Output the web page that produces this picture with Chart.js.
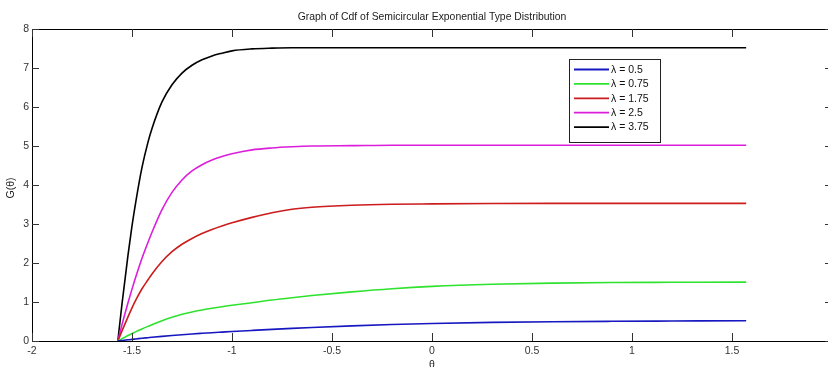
<!DOCTYPE html>
<html>
<head>
<meta charset="utf-8">
<script src="https://cdn.jsdelivr.net/npm/chart.js@4"></script>
<style>
  html, body { margin: 0; padding: 0; background: #fff; overflow: hidden; }
  canvas { display: block; }
</style>
</head>
<body>
<canvas id="cdfChart" width="840" height="367"></canvas>
<script>
const theta = [-1.5708, -1.55, -1.52, -1.50, -1.48, -1.45, -1.42, -1.40, -1.35, -1.30,
               -1.25, -1.20, -1.15, -1.10, -1.05, -1.00, -0.90, -0.80, -0.70, -0.60,
               -0.40, -0.20, 0, 0.30, 0.60, 0.90, 1.20, 1.5708];

const lambdaLabels = ['\u03bb = 0.5', '\u03bb = 0.75', '\u03bb = 1.75', '\u03bb = 2.5', '\u03bb = 3.75'];

const g050 = [0, 0.012, 0.03, 0.042, 0.053, 0.07, 0.085, 0.095, 0.118, 0.14,
              0.16, 0.18, 0.197, 0.213, 0.228, 0.243, 0.271, 0.298, 0.323, 0.346,
              0.388, 0.422, 0.45, 0.478, 0.495, 0.505, 0.512, 0.52];
const g075 = [0, 0.06, 0.14, 0.19, 0.24, 0.31, 0.375, 0.418, 0.52, 0.61,
              0.685, 0.745, 0.795, 0.84, 0.88, 0.915, 0.98, 1.05, 1.11, 1.165,
              1.26, 1.34, 1.40, 1.455, 1.485, 1.50, 1.505, 1.51];
const g175 = [0, 0.26, 0.62, 0.85, 1.06, 1.34, 1.57, 1.72, 2.04, 2.29,
              2.48, 2.63, 2.755, 2.86, 2.95, 3.03, 3.17, 3.29, 3.38, 3.43,
              3.48, 3.505, 3.515, 3.525, 3.53, 3.53, 3.53, 3.53];
const g250 = [0, 0.42, 0.98, 1.33, 1.66, 2.12, 2.53, 2.79, 3.37, 3.81,
              4.13, 4.36, 4.52, 4.64, 4.73, 4.80, 4.90, 4.95, 4.98, 5.00,
              5.01, 5.02, 5.02, 5.02, 5.02, 5.02, 5.02, 5.02];
const g375 = [0, 0.95, 2.20, 2.95, 3.60, 4.45, 5.10, 5.45, 6.13, 6.57,
              6.87, 7.07, 7.21, 7.31, 7.38, 7.44, 7.49, 7.51, 7.52, 7.52,
              7.52, 7.52, 7.52, 7.52, 7.52, 7.52, 7.52, 7.52];

const xTickValues = [-2, -1.5, -1, -0.5, 0, 0.5, 1, 1.5, 2];
const yTickValues = [0, 1, 2, 3, 4, 5, 6, 7, 8];

const FONT = '"Liberation Sans", Arial, sans-serif';

function points(ys) {
    return theta.map((t, i) => ({ x: t, y: ys[i] }));
}

function line(label, ys, color) {
    return {
        label: label,
        data: points(ys),
        borderColor: color,
        backgroundColor: color,
        borderWidth: 1.6,
        pointRadius: 0,
        cubicInterpolationMode: 'monotone',
        fill: false
    };
}

// MATLAB-like frame, inward ticks, title, axis labels and legend box
const matlabFrame = {
    id: 'matlabFrame',
    afterDraw(chart) {
        const { ctx, chartArea: a, scales: { x, y } } = chart;
        ctx.save();

        ctx.strokeStyle = '#000';
        ctx.lineWidth = 1;
        ctx.strokeRect(a.left + 0.5, a.top + 0.5, a.right - a.left, a.bottom - a.top);

        ctx.strokeStyle = '#333';
        ctx.beginPath();
        xTickValues.forEach(v => {
            const px = Math.round(x.getPixelForValue(v)) + 0.5;
            ctx.moveTo(px, a.bottom); ctx.lineTo(px, a.bottom - 8);
            ctx.moveTo(px, a.top); ctx.lineTo(px, a.top + 8);
        });
        yTickValues.forEach(v => {
            const py = Math.round(y.getPixelForValue(v)) + 0.5;
            ctx.moveTo(a.left, py); ctx.lineTo(a.left + 7, py);
            ctx.moveTo(a.right, py); ctx.lineTo(a.right - 7, py);
        });
        ctx.stroke();

        // title
        ctx.fillStyle = '#222';
        ctx.font = '10.4px ' + FONT;
        ctx.textAlign = 'center';
        ctx.textBaseline = 'alphabetic';
        ctx.fillText('Graph of Cdf of Semicircular Exponential Type Distribution', (a.left + a.right) / 2, 20);

        // axis titles
        ctx.font = '10.5px ' + FONT;
        ctx.fillText('\u03b8', x.getPixelForValue(0), 368);
        ctx.save();
        ctx.translate(14, (a.top + a.bottom) / 2 + 3);
        ctx.rotate(-Math.PI / 2);
        ctx.fillText('G(\u03b8)', 0, 0);
        ctx.restore();

        // legend
        const lx = 569, ly = 59, lw = 91, lh = 83;
        ctx.fillStyle = '#fff';
        ctx.fillRect(lx, ly, lw, lh);
        ctx.strokeStyle = '#222';
        ctx.strokeRect(lx + 0.5, ly + 0.5, lw, lh);
        ctx.font = '10.5px ' + FONT;
        ctx.textAlign = 'left';
        ctx.textBaseline = 'middle';
        chart.data.datasets.forEach((ds, i) => {
            const ry = ly + 10.5 + i * 14.4;
            ctx.strokeStyle = ds.borderColor;
            ctx.lineWidth = 1.8;
            ctx.beginPath();
            ctx.moveTo(574, ry); ctx.lineTo(609, ry);
            ctx.stroke();
            ctx.fillStyle = '#111';
            ctx.fillText(ds.label, 611, ry + 0.5);
        });

        ctx.restore();
    }
};

new Chart(document.getElementById('cdfChart'), {
    type: 'line',
    data: {
        datasets: [
            line(lambdaLabels[0], g050, '#1818c0'),
            line(lambdaLabels[1], g075, '#2ee22e'),
            line(lambdaLabels[2], g175, '#cc1c1c'),
            line(lambdaLabels[3], g250, '#dc1edc'),
            line(lambdaLabels[4], g375, '#000000')
        ]
    },
    options: {
        responsive: false,
        animation: false,
        devicePixelRatio: 1,
        layout: { padding: { top: 29, right: 8, left: 0, bottom: 0 } },
        plugins: {
            legend: { display: false },
            title: { display: false },
            tooltip: { enabled: false }
        },
        scales: {
            x: {
                type: 'linear',
                min: -2,
                max: 2,
                afterFit: s => { s.height = 26; },
                afterBuildTicks: s => { s.ticks = xTickValues.map(v => ({ value: v })); },
                grid: { display: false, drawTicks: false },
                border: { display: false },
                ticks: {
                    autoSkip: false,
                    maxRotation: 0,
                    padding: 4,
                    color: '#333',
                    font: { family: FONT, size: 10.5 },
                    callback: v => String(v)
                }
            },
            y: {
                type: 'linear',
                min: 0,
                max: 8,
                afterFit: s => { s.width = 32; },
                afterBuildTicks: s => { s.ticks = yTickValues.map(v => ({ value: v })); },
                grid: { display: false, drawTicks: false },
                border: { display: false },
                ticks: {
                    padding: 3,
                    color: '#333',
                    font: { family: FONT, size: 10.5 },
                    callback: v => String(v)
                }
            }
        }
    },
    plugins: [matlabFrame]
});
</script>
</body>
</html>
